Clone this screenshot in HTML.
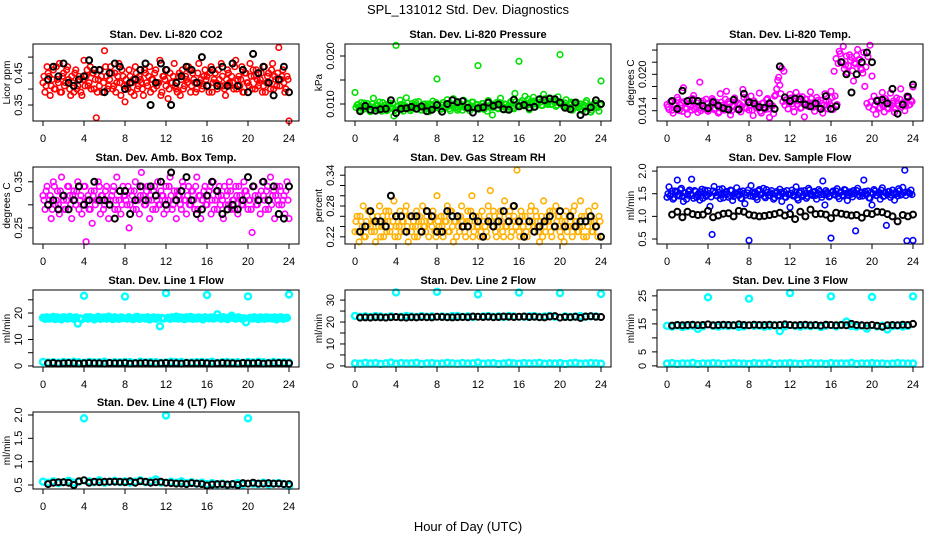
<!DOCTYPE html>
<html><head><meta charset="utf-8"><style>
html,body{margin:0;padding:0;background:#fff;}
svg{display:block;font-family:"Liberation Sans",Arial,sans-serif;}
</style></head><body>
<svg id="c" width="936" height="540" viewBox="0 0 936 540">
<rect width="936" height="540" fill="#fff"/>
<text x="468" y="14" text-anchor="middle" font-size="13">SPL_131012  Std. Dev. Diagnostics</text>
<text x="468" y="531" text-anchor="middle" font-size="13">Hour of Day (UTC)</text>
</svg>
<script>
const xTicks=[0,4,8,12,16,20,24];
const co2Vals=[0.42,0.39,0.47,0.44,0.41,0.46,0.40,0.43,0.48,0.39,0.45,0.42,0.47,0.40,0.44,0.39,0.46,0.41,0.43,0.38,0.49,0.44,0.41,0.47,0.45,0.40,0.31,0.43,0.46,0.39,0.52,0.44,0.41,0.47,0.40,0.45,0.42,0.48,0.38,0.44,0.36,0.41,0.46,0.39,0.43,0.47,0.40,0.44,0.42,0.38,0.45,0.41,0.47,0.43,0.40,0.46,0.42,0.49,0.39,0.44,0.41,0.37,0.45,0.42,0.48,0.40,0.44,0.38,0.46,0.41,0.43,0.47,0.39,0.45,0.42,0.40,0.48,0.43,0.41,0.46,0.44,0.39,0.47,0.42,0.45,0.40,0.43,0.48,0.41,0.38,0.46,0.42,0.44,0.40,0.49,0.43,0.41,0.47,0.39,0.45,0.42,0.48,0.40,0.44,0.46,0.41,0.43,0.39,0.47,0.42,0.45,0.40,0.48,0.44,0.41,0.53,0.43,0.46,0.39,0.44,0.30];
const co2ValsB=[0.44,0.41,0.45,0.38,0.43,0.40,0.47,0.42,0.39,0.44,0.41,0.46,0.43,0.38,0.42,0.45,0.40,0.44,0.39,0.43,0.41,0.46,0.42,0.40,0.45,0.43,0.39,0.41,0.44,0.42,0.47,0.40,0.43,0.45,0.41,0.39,0.44,0.42,0.46,0.41,0.43,0.40,0.44,0.42,0.38,0.45,0.41,0.43,0.40,0.46,0.42,0.44,0.39,0.43,0.45,0.41,0.42,0.38,0.44,0.43,0.46,0.40,0.42,0.44,0.41,0.39,0.45,0.43,0.40,0.44,0.42,0.46,0.41,0.43,0.39,0.45,0.42,0.40,0.44,0.43,0.41,0.45,0.39,0.43,0.42,0.46,0.41,0.44,0.40,0.43,0.45,0.41,0.42,0.47,0.40,0.44,0.43,0.39,0.45,0.42,0.41,0.44,0.46,0.40,0.43,0.42,0.45,0.41,0.39,0.44,0.42,0.46,0.40,0.43,0.45,0.41,0.44,0.42,0.40,0.43];
const co2Black=[0.43,0.47,0.44,0.48,0.42,0.41,0.43,0.44,0.49,0.46,0.46,0.39,0.45,0.48,0.47,0.40,0.42,0.43,0.46,0.48,0.35,0.42,0.48,0.46,0.35,0.42,0.44,0.47,0.46,0.42,0.50,0.41,0.46,0.41,0.47,0.41,0.48,0.41,0.46,0.39,0.51,0.45,0.47,0.42,0.38,0.43,0.47,0.39];
const presVals=[12.4,9.8,9.2,10.3,8.9,9.6,10.1,8.7,9.4,11.2,9.0,9.7,10.4,8.5,9.3,9.9,8.8,10.2,9.1,7.5,22.2,9.5,10.8,8.9,9.7,11.3,9.2,8.6,10.1,9.4,9.8,10.5,8.8,9.3,10.0,9.1,8.4,9.9,10.6,9.2,15.2,9.6,8.9,10.3,9.4,10.9,9.0,9.7,11.1,9.3,8.7,10.2,9.5,10.8,9.1,9.9,8.6,10.4,9.2,9.8,18.0,9.4,10.1,8.9,9.6,10.7,9.3,7.7,9.9,10.3,9.0,11.2,9.5,10.0,8.8,9.7,10.5,9.2,12.2,9.8,18.9,10.3,9.6,11.6,10.1,8.8,10.6,11.4,9.4,10.2,11.0,9.7,12.0,10.4,9.9,11.3,10.0,10.8,9.5,11.5,20.3,10.2,9.6,10.9,9.3,10.1,8.7,9.8,10.4,9.2,10.0,8.6,9.5,10.7,9.1,8.3,9.9,10.2,9.4,8.5,14.8];
const presValsB=[9.3,9.9,8.7,9.5,10.2,9.0,9.6,8.4,10.0,9.2,9.8,8.9,9.4,10.3,9.1,8.6,9.7,9.3,10.1,8.8,9.5,9.0,9.9,8.5,9.6,10.2,9.2,8.9,9.7,10.4,9.0,9.5,8.7,9.9,9.3,10.0,8.8,9.6,9.2,10.3,9.4,8.9,9.8,9.1,10.1,9.5,8.6,9.7,10.0,9.3,9.0,9.8,8.7,9.5,10.2,9.1,9.6,10.4,9.2,9.9,8.9,9.4,10.1,9.7,8.5,9.6,10.0,9.3,9.8,9.1,10.3,9.5,8.8,9.9,9.4,10.2,9.6,9.0,10.5,9.8,9.5,10.7,10.1,9.6,11.0,10.3,9.9,10.6,10.0,10.9,10.4,9.7,11.1,10.2,10.6,9.9,10.8,10.3,9.8,10.5,10.0,9.6,10.2,9.3,9.9,10.4,9.1,9.7,10.0,9.4,8.9,9.8,10.3,9.2,9.6,8.7,9.5,10.1,9.3,9.8];
const presBlack=[8.5,9.6,8.8,8.6,8.9,9.0,10.8,8.1,9.0,9.1,9.4,9.0,9.5,8.5,8.8,9.8,8.4,10.0,10.8,10.4,10.6,9.2,8.2,9.1,9.3,10.3,9.6,9.9,8.9,8.8,10.9,9.5,9.8,9.2,9.4,11.0,10.8,11.1,11.0,10.3,9.2,8.9,10.3,7.7,8.4,9.3,10.8,10.0];
const tempVals=[15.0,14.2,15.6,13.6,14.8,16.2,14.0,15.3,17.8,14.5,13.4,15.8,14.1,16.5,14.7,13.7,18.7,15.2,14.3,15.9,13.9,14.6,16.0,14.2,15.4,13.6,16.8,14.9,14.1,17.2,15.5,13.3,14.7,16.1,14.4,15.2,13.8,17.5,14.6,15.8,14.1,16.4,13.2,15.0,14.5,16.9,13.6,15.3,14.2,16.0,12.9,14.8,13.5,16.6,19.0,18.2,21.0,20.5,15.8,14.3,16.7,15.1,13.8,17.0,15.6,14.4,16.3,13.0,15.9,14.7,17.1,15.3,13.9,16.2,14.6,15.7,13.6,16.8,14.9,15.5,17.2,14.2,16.4,15.0,23.8,22.1,24.6,21.5,20.3,23.2,22.8,18.9,21.7,24.1,22.5,20.8,23.6,21.2,22.9,24.8,19.7,16.4,13.4,15.8,14.5,17.0,13.8,15.6,14.3,16.9,15.2,13.7,16.1,14.8,17.6,15.3,14.0,16.4,14.9,15.7,17.9];
const tempValsB=[14.6,15.4,14.1,15.0,14.4,15.8,14.9,13.9,15.5,14.3,15.1,14.7,16.0,14.2,15.3,14.8,14.0,15.6,14.5,15.2,14.1,14.9,15.7,14.4,15.0,13.8,15.4,14.6,15.9,14.3,15.1,14.0,14.8,15.5,14.2,15.0,14.7,16.2,14.4,15.3,14.9,14.1,15.6,14.5,15.0,13.9,15.2,14.6,15.8,14.3,15.1,14.8,16.4,17.6,19.5,16.8,15.5,14.9,15.8,15.2,16.1,14.7,15.6,15.0,16.3,14.5,15.4,15.9,14.8,15.3,16.0,14.6,15.1,15.7,14.4,15.2,14.9,15.6,14.3,15.0,16.2,20.5,22.6,21.8,23.4,22.0,20.9,23.0,21.4,22.3,20.6,21.9,23.1,22.4,21.0,20.2,18.0,15.2,14.6,15.5,14.2,15.0,15.8,14.4,15.3,14.7,16.0,14.5,15.1,14.9,15.6,14.3,15.2,15.9,14.6,15.4,14.8,16.1,15.0,15.5];
const tempBlack=[15.6,14.3,17.3,15.6,15.7,15.6,14.8,14.4,15.4,14.8,14.4,14.2,15.8,14.2,16.8,15.4,15.2,14.6,14.5,15.2,14.3,21.3,16.2,15.6,16.0,15.9,15.0,14.7,15.2,14.3,16.4,14.3,14.7,22.0,20.0,17.0,20.0,22.0,23.6,22.0,15.6,15.8,15.2,17.6,13.5,15.0,16.3,18.3];
const ambVals=[0.32,0.29,0.34,0.31,0.27,0.35,0.30,0.33,0.28,0.36,0.31,0.29,0.34,0.32,0.27,0.33,0.30,0.35,0.31,0.28,0.34,0.22,0.32,0.29,0.26,0.33,0.31,0.35,0.28,0.32,0.30,0.34,0.27,0.31,0.33,0.29,0.36,0.31,0.28,0.34,0.32,0.30,0.25,0.33,0.29,0.35,0.31,0.28,0.37,0.32,0.30,0.34,0.27,0.31,0.33,0.29,0.35,0.30,0.32,0.28,0.34,0.31,0.36,0.29,0.33,0.27,0.32,0.30,0.35,0.31,0.28,0.34,0.30,0.33,0.29,0.36,0.32,0.27,0.31,0.34,0.30,0.33,0.28,0.35,0.31,0.29,0.34,0.32,0.27,0.30,0.33,0.35,0.29,0.31,0.34,0.28,0.32,0.30,0.35,0.33,0.29,0.31,0.24,0.34,0.30,0.32,0.28,0.35,0.31,0.33,0.29,0.36,0.32,0.27,0.34,0.30,0.33,0.31,0.28,0.35,0.27];
const ambValsB=[0.31,0.33,0.30,0.32,0.29,0.34,0.31,0.30,0.33,0.32,0.29,0.31,0.34,0.30,0.32,0.31,0.33,0.29,0.32,0.30,0.34,0.31,0.29,0.33,0.32,0.30,0.31,0.34,0.32,0.29,0.33,0.31,0.30,0.32,0.34,0.31,0.29,0.33,0.30,0.32,0.31,0.34,0.30,0.32,0.33,0.29,0.31,0.32,0.34,0.30,0.33,0.31,0.32,0.29,0.34,0.31,0.30,0.33,0.32,0.31,0.29,0.34,0.32,0.30,0.31,0.33,0.32,0.29,0.34,0.31,0.32,0.30,0.33,0.31,0.34,0.29,0.32,0.31,0.33,0.30,0.32,0.34,0.31,0.29,0.33,0.32,0.30,0.31,0.34,0.32,0.30,0.33,0.31,0.29,0.32,0.34,0.31,0.30,0.33,0.32,0.31,0.29,0.34,0.32,0.30,0.31,0.33,0.32,0.29,0.34,0.31,0.30,0.33,0.32,0.31,0.34,0.30,0.32,0.33,0.31];
const ambBlack=[0.30,0.31,0.29,0.32,0.29,0.31,0.34,0.30,0.31,0.35,0.31,0.31,0.30,0.27,0.33,0.33,0.28,0.31,0.34,0.31,0.34,0.32,0.35,0.30,0.37,0.31,0.33,0.36,0.31,0.28,0.29,0.32,0.35,0.33,0.28,0.29,0.30,0.29,0.31,0.36,0.34,0.31,0.35,0.31,0.34,0.28,0.27,0.34];
const rhVals=[0.23,0.26,0.21,0.25,0.28,0.22,0.24,0.27,0.23,0.25,0.21,0.26,0.28,0.24,0.22,0.27,0.25,0.23,0.26,0.29,0.24,0.22,0.27,0.25,0.23,0.28,0.21,0.26,0.24,0.22,0.27,0.25,0.23,0.28,0.24,0.26,0.22,0.25,0.27,0.23,0.30,0.24,0.26,0.22,0.25,0.28,0.23,0.27,0.21,0.25,0.26,0.23,0.28,0.24,0.22,0.27,0.25,0.30,0.23,0.26,0.24,0.22,0.27,0.25,0.23,0.28,0.31,0.24,0.26,0.22,0.25,0.27,0.23,0.29,0.24,0.26,0.22,0.28,0.25,0.35,0.23,0.27,0.24,0.26,0.22,0.25,0.28,0.23,0.27,0.24,0.21,0.26,0.29,0.23,0.25,0.27,0.22,0.24,0.28,0.26,0.23,0.25,0.21,0.27,0.24,0.26,0.22,0.28,0.25,0.23,0.29,0.24,0.26,0.22,0.27,0.25,0.23,0.28,0.24,0.26,0.22];
const rhValsB=[0.25,0.23,0.26,0.24,0.22,0.25,0.27,0.24,0.26,0.23,0.25,0.24,0.22,0.26,0.25,0.23,0.27,0.24,0.25,0.22,0.26,0.24,0.23,0.25,0.27,0.24,0.26,0.23,0.25,0.24,0.22,0.26,0.25,0.24,0.23,0.27,0.25,0.24,0.26,0.22,0.25,0.23,0.24,0.26,0.25,0.23,0.27,0.24,0.25,0.22,0.24,0.26,0.25,0.23,0.25,0.24,0.27,0.22,0.25,0.24,0.26,0.23,0.25,0.24,0.22,0.26,0.25,0.27,0.23,0.24,0.26,0.25,0.22,0.24,0.25,0.27,0.23,0.26,0.24,0.25,0.22,0.26,0.25,0.23,0.24,0.27,0.25,0.24,0.26,0.23,0.25,0.22,0.24,0.26,0.25,0.23,0.27,0.24,0.25,0.26,0.22,0.24,0.25,0.23,0.26,0.24,0.27,0.25,0.23,0.24,0.26,0.22,0.25,0.24,0.26,0.23,0.25,0.24,0.22,0.25];
const rhBlack=[0.23,0.24,0.27,0.25,0.25,0.24,0.30,0.26,0.26,0.23,0.26,0.26,0.23,0.27,0.26,0.23,0.23,0.27,0.26,0.26,0.24,0.24,0.26,0.25,0.22,0.25,0.24,0.25,0.27,0.25,0.28,0.25,0.22,0.25,0.23,0.24,0.25,0.26,0.24,0.27,0.24,0.26,0.24,0.25,0.25,0.26,0.24,0.22];
const sampVals=[1.42,1.65,1.50,1.38,1.56,1.80,1.45,1.62,1.33,1.52,1.47,1.58,1.82,1.40,1.55,1.48,1.36,1.60,1.51,1.44,1.57,1.22,0.60,1.66,1.46,1.53,1.39,1.61,1.49,1.55,1.42,1.58,1.35,1.50,1.63,1.46,1.40,1.56,1.28,1.52,0.47,1.68,1.44,1.54,1.37,1.59,1.48,1.62,1.41,1.53,1.46,1.57,1.38,1.51,1.45,1.60,1.33,1.55,1.42,1.49,1.20,1.58,1.47,1.65,1.36,1.52,1.44,1.57,1.40,1.62,1.50,1.46,1.55,1.38,1.59,1.48,1.78,1.25,1.53,1.43,0.52,1.56,1.47,1.61,1.39,1.54,1.45,1.58,1.35,1.51,1.49,1.57,0.68,1.62,1.44,1.53,1.80,1.48,1.56,1.40,1.25,1.59,1.46,1.52,1.38,1.63,1.45,0.80,1.55,1.42,1.58,1.36,1.50,1.61,1.47,1.64,2.02,0.46,1.52,1.58,0.47];
const sampValsB=[1.50,1.45,1.56,1.41,1.53,1.48,1.59,1.44,1.52,1.38,1.55,1.49,1.46,1.57,1.42,1.51,1.54,1.40,1.58,1.47,1.50,1.43,1.56,1.52,1.45,1.60,1.48,1.41,1.54,1.50,1.46,1.57,1.44,1.52,1.49,1.55,1.39,1.51,1.47,1.58,1.45,1.53,1.50,1.42,1.56,1.48,1.51,1.44,1.59,1.46,1.52,1.49,1.41,1.55,1.47,1.53,1.50,1.43,1.57,1.48,1.51,1.45,1.54,1.40,1.52,1.56,1.47,1.50,1.44,1.58,1.49,1.53,1.46,1.51,1.55,1.42,1.48,1.57,1.50,1.45,1.53,1.49,1.56,1.44,1.52,1.47,1.59,1.51,1.46,1.54,1.43,1.50,1.57,1.48,1.52,1.45,1.55,1.49,1.41,1.53,1.50,1.56,1.46,1.51,1.58,1.44,1.52,1.48,1.55,1.47,1.50,1.53,1.45,1.57,1.49,1.52,1.46,1.54,1.50,1.48];
const sampBlack=[1.04,1.10,0.98,1.10,1.05,1.03,1.04,1.12,0.98,1.02,1.06,1.07,1.00,1.12,1.10,1.04,1.02,1.00,1.01,1.03,1.05,1.08,1.02,1.05,0.94,1.10,1.00,1.15,1.05,1.06,1.04,0.96,1.08,1.06,1.04,1.02,1.03,0.97,1.07,1.05,1.10,1.09,1.05,1.00,0.89,1.03,1.00,1.04];
const line1High=[18.2,17.8,18.4,17.9,18.1,18.5,17.7,18.3,18.0,17.6,18.4,18.2,17.9,18.5,18.1,17.8,18.3,16.0,18.0,17.7,26.5,18.3,17.9,18.4,18.1,17.6,18.2,18.5,17.8,18.0,18.3,17.9,18.6,18.2,17.7,18.4,18.0,17.8,18.3,18.1,26.2,17.9,18.4,18.0,17.7,18.3,18.5,17.8,18.1,18.2,17.9,18.4,17.6,18.0,18.3,17.8,18.2,15.0,18.1,17.9,27.5,18.2,17.8,18.4,18.0,18.6,17.9,18.3,18.1,17.7,18.4,18.0,18.5,17.8,18.2,17.9,18.3,18.1,17.6,18.4,26.8,18.0,18.3,17.9,18.2,19.5,18.1,17.8,18.4,18.0,17.7,18.3,19.0,18.1,17.9,18.4,18.2,17.8,18.0,16.5,26.3,18.2,17.9,18.4,18.0,17.7,18.3,18.1,17.8,18.4,18.0,18.2,17.9,18.3,17.6,18.1,18.4,17.8,18.0,18.2,27.0];
const line1Low=[1.5,1.3,1.4,1.2,1.5,1.3,1.6,1.4,1.2,1.5,1.3,1.4,1.6,1.2,1.4,1.3,1.5,1.4,1.2,1.6,1.3,1.5,1.4,1.2,1.3,1.6,1.4,1.5,1.2,1.3,1.4,1.5,1.3,1.6,1.2,1.4,1.5,1.3,1.4,1.2,1.5,1.3,1.6,1.4,1.2,1.5,1.3,1.4,1.3];
const line1Black=[1.0,1.1,0.9,1.0,1.1,1.0,0.9,1.0,1.1,1.0,1.0,0.9,1.1,1.0,1.0,1.1,0.9,1.0,1.0,1.1,1.0,0.9,1.0,1.1,1.0,1.0,0.9,1.1,1.0,1.0,1.1,1.0,0.9,1.0,1.1,1.0,1.0,0.9,1.1,1.0,1.0,1.1,0.9,1.0,1.0,1.1,1.0,1.0];
const line2High=[22.8,22.4,22.6,22.3,22.7,22.5,22.2,22.6,33.5,22.4,22.8,22.5,22.3,22.7,22.4,22.6,33.8,22.5,22.3,22.7,22.8,22.4,22.6,22.3,32.6,22.5,22.7,22.4,22.6,22.3,22.8,22.5,33.4,22.4,22.6,22.7,22.3,22.5,22.8,22.4,33.2,22.6,22.3,22.5,22.7,22.4,22.6,22.5,32.8];
const line2Low=[1.2,1.0,1.4,1.1,1.3,0.9,1.2,1.5,1.0,1.3,1.1,1.2,1.4,0.9,1.2,1.3,1.0,1.1,1.4,1.2,1.0,1.3,1.1,1.2,1.5,1.0,1.2,1.3,0.9,1.1,1.4,1.2,1.0,1.3,1.1,1.2,1.4,1.0,1.2,1.1,1.3,0.9,1.2,1.4,1.0,1.1,1.3,1.2,1.0];
const line2Black=[22.0,22.1,22.0,22.2,22.1,22.0,22.2,22.3,22.1,22.0,22.2,22.1,22.3,22.2,22.1,22.4,22.3,22.2,22.1,22.2,22.3,22.2,22.5,22.4,22.3,22.4,22.2,22.3,22.5,22.4,22.3,22.4,22.5,22.3,22.4,22.2,22.1,22.5,22.7,22.0,22.3,22.2,22.4,21.9,22.5,22.6,22.4,22.3];
const line3High=[14.3,14.0,14.5,13.9,14.2,14.4,13.2,14.1,24.5,14.3,14.0,14.4,14.2,14.5,13.9,14.1,24.0,14.3,14.4,14.0,14.2,14.5,12.4,14.1,26.0,14.3,14.0,14.4,14.2,14.5,13.9,14.3,24.8,14.1,14.6,15.8,14.2,14.0,14.4,13.3,24.6,14.1,14.3,13.0,14.2,14.4,14.0,14.3,24.8];
const line3Low=[0.8,1.0,0.7,0.9,0.8,1.1,0.7,0.9,0.8,1.0,0.9,0.7,0.8,1.0,0.9,0.8,0.7,1.0,0.8,0.9,1.1,0.7,0.8,0.9,1.0,0.8,0.7,0.9,1.0,0.8,0.9,0.7,1.0,0.8,0.9,0.8,1.1,0.7,0.9,0.8,1.0,0.8,0.9,0.7,0.8,1.0,0.9,0.8,0.9];
const line3Black=[14.4,14.6,14.5,14.6,14.7,14.5,14.6,14.8,14.5,14.6,14.7,14.6,14.5,14.8,14.6,14.5,14.7,14.6,14.6,14.7,14.5,14.6,14.8,14.6,14.5,14.6,14.7,14.5,14.6,14.4,14.7,14.6,14.5,14.6,14.5,15.0,14.6,14.5,14.4,14.6,14.3,14.0,14.5,14.6,14.5,14.7,14.6,15.0];
const line4Vals=[0.57,0.55,0.58,0.54,0.56,0.59,0.55,0.57,1.93,0.58,0.56,0.60,0.55,0.57,0.59,0.56,0.58,0.55,0.57,0.60,0.56,0.58,0.62,0.55,1.99,0.57,0.55,0.58,0.54,0.56,0.53,0.55,0.52,0.54,0.51,0.53,0.50,0.52,0.54,0.51,1.93,0.53,0.52,0.55,0.51,0.53,0.54,0.52,0.48];
const line4Black=[0.52,0.55,0.56,0.56,0.55,0.50,0.58,0.60,0.55,0.57,0.56,0.57,0.57,0.57,0.57,0.56,0.58,0.55,0.58,0.57,0.55,0.56,0.57,0.55,0.54,0.53,0.53,0.52,0.54,0.53,0.52,0.49,0.51,0.52,0.52,0.51,0.52,0.50,0.54,0.53,0.55,0.53,0.53,0.54,0.53,0.53,0.52,0.52];

const co2Ticks=[0.35,0.40,0.45,0.50], co2Labels=["0.35","","0.45",""];
const presTicks=[10,15,20], presLabels=["0.010","","0.020"];
const tempTicks=[14,16,18,20,22,24], tempLabels=["0.014","","","0.020","",""];
const ambTicks=[0.25,0.30,0.35], ambLabels=["0.25","","0.35"];
const rhTicks=[0.22,0.24,0.26,0.28,0.30,0.32,0.34], rhLabels=["0.22","","","0.28","","","0.34"];
const sampTicks=[0.5,1.0,1.5,2.0], sampLabels=["0.5","1.0","1.5","2.0"];
const l1Ticks=[0,5,10,15,20,25], l1Labels=["0","","10","","20",""];
const l2Ticks=[0,5,10,15,20,25,30], l2Labels=["0","","10","","20","","30"];
const l3Ticks=[0,5,10,15,20,25], l3Labels=["0","5","","15","","25"];
const l4Ticks=[0.5,1.0,1.5,2.0], l4Labels=["0.5","1.0","1.5","2.0"];

const svg=document.getElementById('c');
const NS='http://www.w3.org/2000/svg';
const ROWS=[44,167,290,412];
function mk(tag,attrs,parent){const e=document.createElementNS(NS,tag);for(const k in attrs)e.setAttribute(k,attrs[k]);(parent||svg).appendChild(e);return e;}

function panel(cfg){
  const L=33+312*cfg.col, T=ROWS[cfg.row], W=266, H=77;
  const g=mk('g',{});
  
  
  const xs=t=>L+10+t*10.25;
  const ys=v=>T+H-(v-cfg.ymin)/(cfg.ymax-cfg.ymin)*H;
  const tt=mk('text',{x:L+W/2,y:T-6,'text-anchor':'middle','font-size':11,'font-weight':'bold'},g);
  tt.textContent=cfg.title;
  
  
  cfg.series.forEach(s=>{
    const sg=mk('g',{fill:'none',stroke:s.color,'stroke-width':s.sw},g);
    
    
    const n=s.vals.length;
    s.vals.forEach((v,i)=>{
      const t=s.black?(i+1)*0.5:(s.half?(i+0.5)*24/n:i*24/(n-1));
      const c=mk('circle',{cx:xs(t).toFixed(1),cy:ys(v).toFixed(1),r:s.r},sg);
      
      
    });
  });
  const box=mk('rect',{x:L,y:T,width:W,height:H,fill:'none',stroke:'#000','stroke-width':1},g);
  
  
  const xa=mk('g',{},g);
  
  
  xTicks.forEach(t=>{
    mk('line',{x1:xs(t),x2:xs(t),y1:T+H,y2:T+H+5,stroke:'#000'},xa);
    const lb=mk('text',{x:xs(t),y:T+H+21,'text-anchor':'middle','font-size':11},xa);
    lb.textContent=t;
  });
  const ya=mk('g',{},g);
  
  
  cfg.ticks.forEach((v,i)=>{
    const y=ys(v);
    mk('line',{x1:L,x2:L-5,y1:y,y2:y,stroke:'#000'},ya);
    if(cfg.labels[i]){
      const lb=mk('text',{x:0,y:0,'text-anchor':'middle','font-size':11,transform:`translate(${L-11},${y}) rotate(-90)`},ya);
      lb.textContent=cfg.labels[i];
    }
  });
  const yt=mk('text',{x:0,y:0,'text-anchor':'middle','font-size':10,transform:`translate(${L-23},${T+H/2}) rotate(-90)`},g);
  yt.textContent=cfg.ylab;
  
  
}
const CS=(id,vals,color)=>({id,vals,color,sw:1.6,r:2.8});
const CH=(id,vals,color)=>({id,vals,color,sw:1.6,r:2.8,half:true});
const BS=(vals)=>({id:'black-series',vals,color:'#000',sw:2,r:3,black:true});
const FS=(id,vals)=>({id,vals,color:'#00ffff',sw:2.4,r:3});

panel({name:'co2-panel',col:0,row:0,title:'Stan. Dev. Li-820 CO2',ylab:'Licor ppm',ymin:0.30,ymax:0.541,ticks:co2Ticks,labels:co2Labels,series:[CS('red-series',co2Vals,'#ff0000'),CH('red-series-b',co2ValsB,'#ff0000'),BS(co2Black)]});
panel({name:'pressure-panel',col:1,row:0,title:'Stan. Dev. Li-820 Pressure',ylab:'kPa',ymin:6.46,ymax:22.5,ticks:presTicks,labels:presLabels,series:[CS('green-series',presVals,'#00e000'),CH('green-series-b',presValsB,'#00e000'),BS(presBlack)]});
panel({name:'temp-panel',col:2,row:0,title:'Stan. Dev. Li-820 Temp.',ylab:'degrees C',ymin:12.3,ymax:25.0,ticks:tempTicks,labels:tempLabels,series:[CS('magenta-series',tempVals,'#ff00ff'),CH('magenta-series-b',tempValsB,'#ff00ff'),BS(tempBlack)]});
panel({name:'ambbox-panel',col:0,row:1,title:'Stan. Dev. Amb. Box Temp.',ylab:'degrees C',ymin:0.215,ymax:0.382,ticks:ambTicks,labels:ambLabels,series:[CS('magenta-series',ambVals,'#ff00ff'),CH('magenta-series-b',ambValsB,'#ff00ff'),BS(ambBlack)]});
panel({name:'rh-panel',col:1,row:1,title:'Stan. Dev. Gas Stream RH',ylab:'percent',ymin:0.206,ymax:0.356,ticks:rhTicks,labels:rhLabels,series:[CS('orange-series',rhVals,'#ffb000'),CH('orange-series-b',rhValsB,'#ffb000'),BS(rhBlack)]});
panel({name:'sampleflow-panel',col:2,row:1,title:'Stan. Dev. Sample Flow',ylab:'ml/min',ymin:0.39,ymax:2.09,ticks:sampTicks,labels:sampLabels,series:[CS('blue-series',sampVals,'#0000ff'),CH('blue-series-b',sampValsB,'#0000ff'),BS(sampBlack)]});
panel({name:'line1-panel',col:0,row:2,title:'Stan. Dev. Line 1 Flow',ylab:'ml/min',ymin:-0.4,ymax:28.7,ticks:l1Ticks,labels:l1Labels,series:[FS('cyan-high',line1High),FS('cyan-low',line1Low),BS(line1Black)]});
panel({name:'line2-panel',col:1,row:2,title:'Stan. Dev. Line 2 Flow',ylab:'ml/min',ymin:-0.5,ymax:34.6,ticks:l2Ticks,labels:l2Labels,series:[FS('cyan-high',line2High),FS('cyan-low',line2Low),BS(line2Black)]});
panel({name:'line3-panel',col:2,row:2,title:'Stan. Dev. Line 3 Flow',ylab:'ml/min',ymin:-0.4,ymax:27.1,ticks:l3Ticks,labels:l3Labels,series:[FS('cyan-high',line3High),FS('cyan-low',line3Low),BS(line3Black)]});
panel({name:'line4-panel',col:0,row:3,title:'Stan. Dev. Line 4 (LT) Flow',ylab:'ml/min',ymin:0.414,ymax:2.064,ticks:l4Ticks,labels:l4Labels,series:[FS('cyan-series',line4Vals),BS(line4Black)]});
</script>
</body></html>
